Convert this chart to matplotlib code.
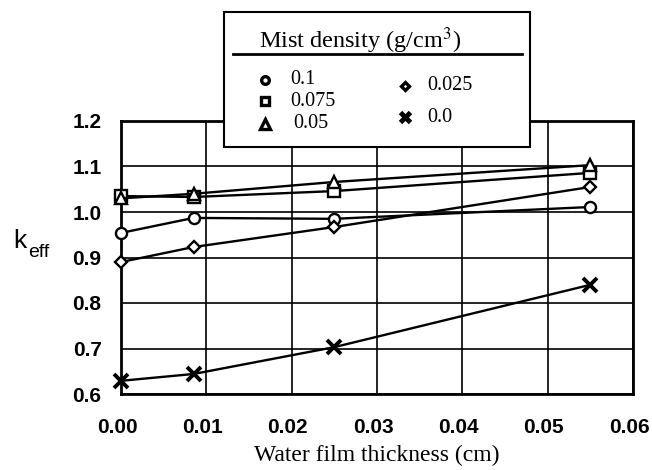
import matplotlib
matplotlib.use("Agg")
import matplotlib.pyplot as plt
import matplotlib.transforms as mtransforms
from matplotlib.patches import Rectangle
from matplotlib.lines import Line2D

# data
thickness = [0.0, 0.0085, 0.025, 0.055]
series_labels = ["0.1", "0.075", "0.05", "0.025", "0.0"]
k_01 = [0.954, 0.987, 0.985, 1.011]
k_0075 = [1.035, 1.033, 1.046, 1.086]
k_005 = [1.030, 1.040, 1.066, 1.103]
k_0025 = [0.890, 0.923, 0.967, 1.055]
k_00 = [0.629, 0.644, 0.703, 0.840]
x_ticks = [0.00, 0.01, 0.02, 0.03, 0.04, 0.05, 0.06]
y_ticks = [0.6, 0.7, 0.8, 0.9, 1.0, 1.1, 1.2]

W, H = 652, 470
fig = plt.figure(figsize=(W / 100, H / 100), dpi=100)
L, R, T, B = 121, 633, 121, 394
ax = fig.add_axes([L / W, 1 - B / H, (R - L) / W, (B - T) / H])

sans = "Liberation Sans"
serif = "Liberation Serif"

styles = [
    (k_01, "o", 8, 1.7),
    (k_0075, "s", 8, 1.7),
    (k_005, "^", 9, 1.7),
    (k_0025, "D", 6.5, 1.7),
    (k_00, "x", 10, 2.8),
]
for vals, m, ms, mew in styles:
    ax.plot(thickness, vals, color="black", lw=1.7, marker=m, ms=ms,
            mfc="white", mec="black", mew=mew, clip_on=False, zorder=3)

ax.set_xlim(0, 0.06)
ax.set_ylim(0.6, 1.2)
ax.set_xticks(x_ticks)
ax.set_yticks(y_ticks)
ax.set_xticklabels([f"{v:.2f}" for v in x_ticks], fontfamily=sans, fontsize=15, fontweight="bold")
ax.set_yticklabels([f"{v:.1f}" for v in y_ticks], fontfamily=sans, fontsize=15, fontweight="bold")
ax.tick_params(axis="both", length=0)
ax.tick_params(axis="y", pad=14)
ax.tick_params(axis="x", pad=17)
shift = mtransforms.ScaledTranslation(-4 / 100, 0, fig.dpi_scale_trans)
for lbl in ax.get_xticklabels():
    lbl.set_transform(lbl.get_transform() + shift)
ax.grid(True, color="black", lw=1.2)
ax.set_axisbelow(True)
for s in ax.spines.values():
    s.set_linewidth(2)
ax.set_xlabel("Water film thickness (cm)", fontfamily=serif, fontsize=17, labelpad=6)

# y label k_eff
fig.text(13 / W, 1 - 248 / H, "k", fontfamily=sans, fontsize=19, ha="left", va="baseline")
fig.text(28 / W, 1 - 257 / H, "eff", fontfamily=sans, fontsize=14, ha="left", va="baseline")

# legend box
bx0, bx1, by0, by1 = 224, 530, 12, 147
fig.patches.append(Rectangle((bx0 / W, 1 - by1 / H), (bx1 - bx0) / W, (by1 - by0) / H,
                             transform=fig.transFigure, facecolor="white",
                             edgecolor="black", lw=1.5, zorder=5))
fig.text(259 / W, 1 - 48 / H, r"Mist density (g/cm$^3$)", fontfamily=serif,
         fontsize=17.5, ha="left", va="baseline", zorder=6,
         math_fontfamily="stix")
fig.lines.append(Line2D([233 / W, 522 / W], [1 - 54 / H, 1 - 54 / H],
                        transform=fig.transFigure, color="black", lw=2, zorder=6))

leg_pos = [(265, 80, 290), (265, 101, 290), (265, 124, 293), (405, 86, 427), (405, 117, 427)]
for (vals, m, ms, mew), lab, (mx, my, tx) in zip(styles, series_labels, leg_pos):
    fig.lines.append(Line2D([mx / W], [1 - my / H], transform=fig.transFigure,
                            marker=m, ms=ms - 2.5, mfc="white", mec="black",
                            mew=mew + 0.7, ls="none", zorder=6))
    fig.text(tx / W, 1 - my / H, lab, fontfamily=serif, fontsize=14.5,
             ha="left", va="center", zorder=6)

fig.savefig("out.png", dpi=100)
